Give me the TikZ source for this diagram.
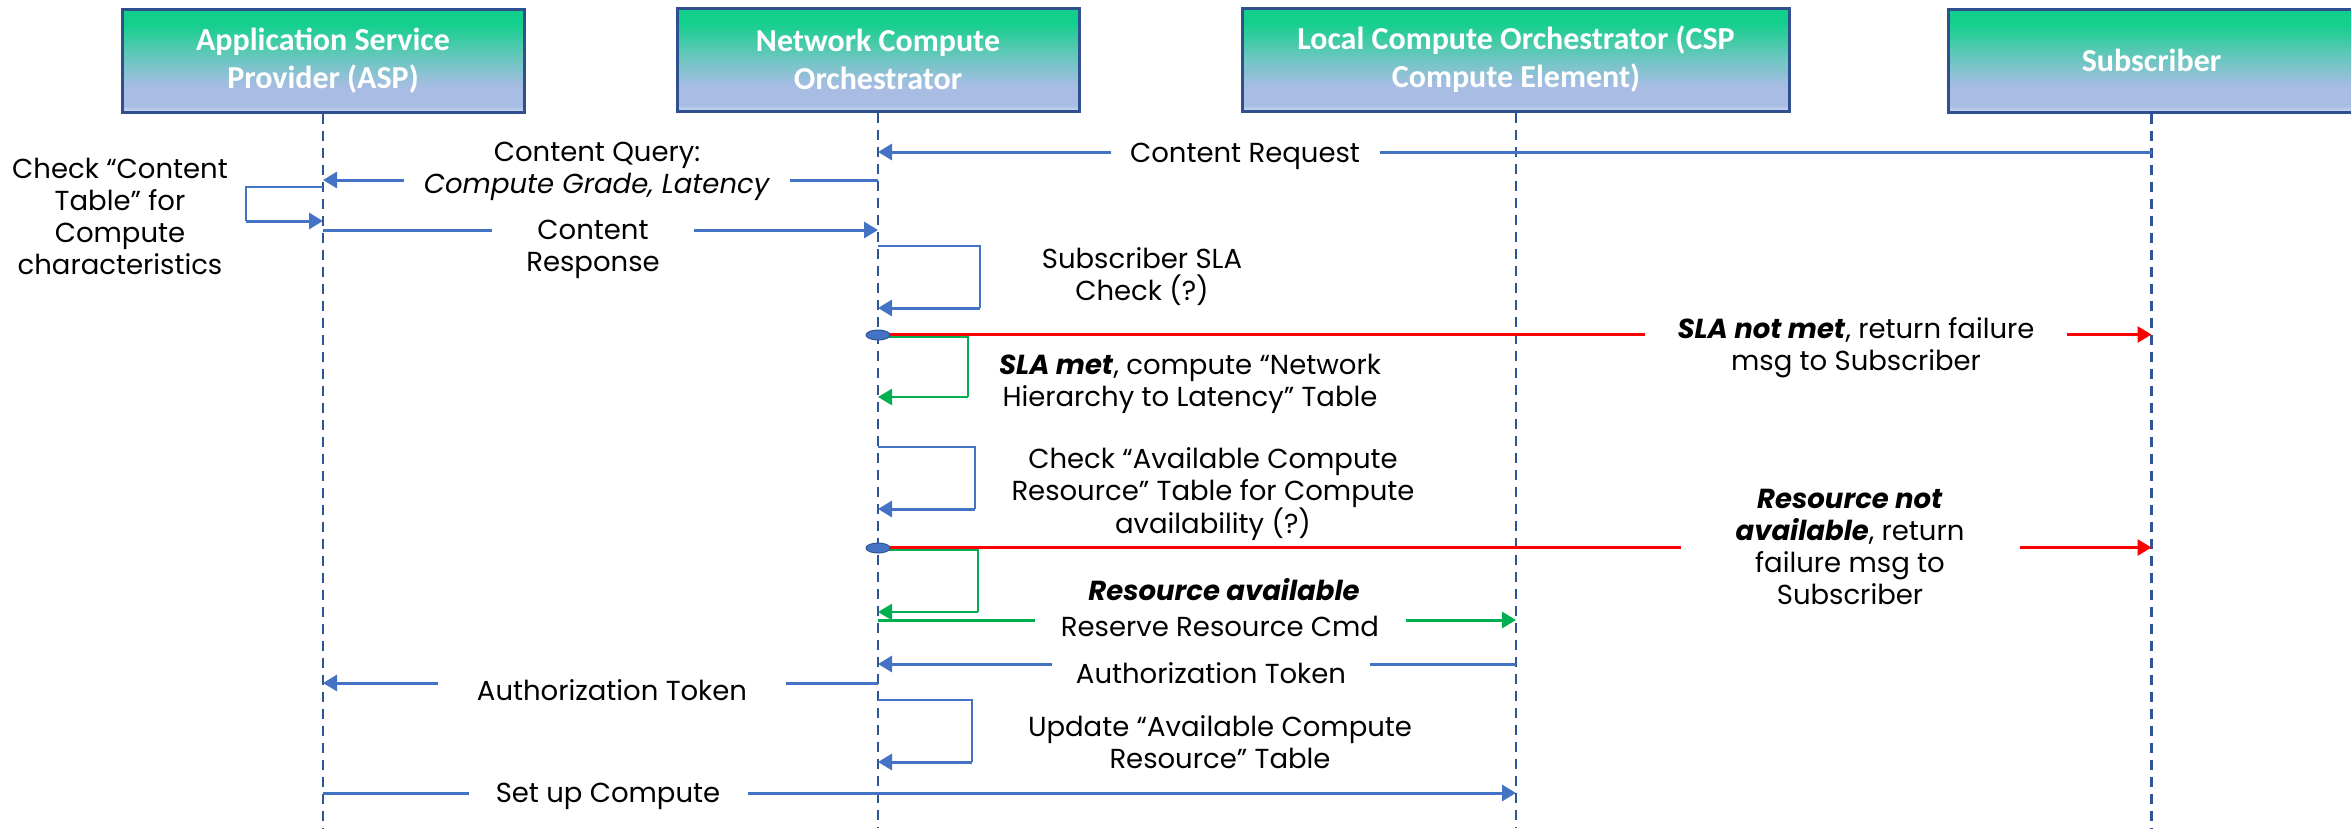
\documentclass[tikz,border=0pt]{standalone}
\usepackage{fontspec}
\setmainfont{Poppins}
\newfontfamily\hdrfont{Carlito}
\usetikzlibrary{arrows.meta,shapes.geometric}
\definecolor{msgblue}{HTML}{4472C4}
\definecolor{lifeblue}{HTML}{2F5597}
\definecolor{hdrborder}{HTML}{2F4F8F}
\definecolor{redline}{HTML}{FF0000}
\definecolor{greenline}{HTML}{00B050}
\definecolor{hdrgrn}{HTML}{12D08B}
\definecolor{hdrmid}{HTML}{6FC6C2}
\definecolor{hdrlav}{HTML}{A8BCE4}
\definecolor{hdrbot}{HTML}{CBD8F0}
\pgfdeclareverticalshading{hdrshade}{100bp}{color(0bp)=(hdrbot); color(25bp)=(hdrbot); color(28bp)=(hdrlav); color(37bp)=(hdrlav); color(50bp)=(hdrmid); color(68bp)=(hdrgrn); color(100bp)=(hdrgrn)}
\tikzset{
  hdr/.style={draw=hdrborder, line width=3pt, shading=hdrshade, minimum height=103pt,
    text=white, font=\hdrfont\bfseries\fontsize{32}{38}\selectfont, align=center, inner sep=0pt},
  life/.style={draw=lifeblue, line width=2.5pt, dash pattern=on 10pt off 7pt},
  tip/.style={-{Triangle[length=14pt,width=16pt]}},
  msg/.style={draw=msgblue, line width=3pt, tip},
  redmsg/.style={draw=redline, line width=3pt, tip},
  greenmsg/.style={draw=greenline, line width=3pt, tip},
  thinblue/.style={draw=msgblue, line width=1.5pt},
  thingreen/.style={draw=greenline, line width=2pt},
  lbl/.style={fill=white, font=\fontsize{27.5}{32}\selectfont, align=center, inner sep=0pt, minimum height=34pt, yshift=-3pt},
  txt/.style={font=\fontsize{27.5}{32}\selectfont, align=center, inner sep=0pt, yshift=-3pt},
  dotnode/.style={ellipse, fill=msgblue, draw=lifeblue, line width=1pt, minimum width=24pt, minimum height=10pt, inner sep=0pt},
}
\begin{document}
\begin{tikzpicture}[x=1pt,y=-1pt]
\useasboundingbox (0,0) rectangle (2351,828);
% headers
\node[hdr, minimum width=402pt] (asp) at (323,60.5) {Application Service\\Provider (ASP)};
\node[hdr, minimum width=402pt] (nco) at (878,59.5) {Network Compute\\Orchestrator};
\node[hdr, minimum width=547pt] (lco) at (1516,59.5) {Local Compute Orchestrator (CSP\\Compute Element)};
\node[hdr, minimum width=407pt] (sub) at (2151.5,60.5) {Subscriber};
% lifelines
\coordinate (bot) at (0,828);
\draw[life] (asp.south) -- (asp.south |- bot);
\draw[life] (nco.south) -- (nco.south |- bot);
\draw[life] (lco.south) -- (lco.south |- bot);
\draw[life] (sub.south) -- (sub.south |- bot);

% 1 Content Request
\draw[msg] (sub |- 0,152) -- (nco |- 0,152);
\node[lbl, minimum width=269pt] (m1) at (1245,153) {Content Request};
% 2 Content Query
\draw[msg] (nco |- 0,180) -- (asp |- 0,180);
\node[lbl, minimum width=386pt] (m2) at (597,168) {Content Query:\\\textit{Compute Grade, Latency}};
% 3 ASP loop
\coordinate (c3) at (246,221);
\draw[thinblue] (asp |- 0,187) -| (c3);
\draw[msg] (c3) -- (asp |- c3);
\node[txt] (t3) at (120,213) {Check “Content\\Table” for\\Compute\\characteristics};
% 4 Content Response
\draw[msg] (asp |- 0,230) -- (nco |- 0,230);
\node[lbl, minimum width=202pt] (m4) at (593,246) {Content\\Response};
% 5 SLA check loop
\coordinate (c5) at (980,308);
\draw[thinblue] (nco |- 0,246) -| (c5);
\draw[msg] (c5) -- (nco |- c5);
\node[txt] (t5) at (1142,274) {Subscriber SLA\\Check (?)};
% 6 SLA decision
\coordinate (d1pos) at (878,335);
\coordinate (c6) at (968,397);
\draw[thingreen] (nco |- 0,336.5) -| (c6);
\draw[greenmsg, line width=2.5pt] (c6) -- (nco |- c6);
\draw[redmsg] (nco |- 0,334.5) -- (sub |- 0,334.5);
\node[dotnode] (d1) at (nco |- d1pos) {};
\node[lbl, minimum width=422pt] (m6) at (1856,345) {\textbf{\textit{SLA not met}}, return failure\\msg to Subscriber};
\node[txt] (t6) at (1190,381) {\textbf{\textit{SLA met}}, compute “Network\\Hierarchy to Latency” Table};
% 7 Available compute loop
\coordinate (c7) at (975,509);
\draw[thinblue] (nco |- 0,447) -| (c7);
\draw[msg] (c7) -- (nco |- c7);
\node[txt] (t7) at (1213,491) {Check “Available Compute\\Resource” Table for Compute\\availability (?)};
% 8 Resource decision
\coordinate (d2pos) at (878,548);
\coordinate (c8) at (978,612);
\draw[thingreen] (nco |- 0,549.5) -| (c8);
\draw[greenmsg, line width=2.5pt] (c8) -- (nco |- c8);
\draw[redmsg] (nco |- 0,547.5) -- (sub |- 0,547.5);
\node[dotnode] (d2) at (nco |- d2pos) {};
\node[lbl, minimum width=339pt] (m8) at (1850,544) {\textbf{\textit{Resource not}}\\\textbf{\textit{available}}, return\\failure msg to\\Subscriber};
\node[txt] (t8) at (1224,587) {\textbf{\textit{Resource available}}};
% 9 Reserve Resource Cmd
\draw[greenmsg] (nco |- 0,620) -- (lco |- 0,620);
\node[lbl, minimum width=371pt, minimum height=30pt] (m9) at (1220,623) {Reserve Resource Cmd};
% 10 Authorization Token (LCO -> NCO)
\draw[msg] (lco |- 0,664) -- (nco |- 0,664);
\node[lbl, minimum width=318pt, minimum height=30pt] (m10) at (1211,670) {Authorization Token};
% 11 Authorization Token (NCO -> ASP)
\draw[msg] (nco |- 0,683) -- (asp |- 0,683);
\node[lbl, minimum width=348pt] (m11) at (612,687) {Authorization Token};
% 12 Update loop
\coordinate (c12) at (972,762);
\draw[thinblue] (nco |- 0,700) -| (c12);
\draw[msg] (c12) -- (nco |- c12);
\node[txt] (t12) at (1220,739) {Update “Available Compute\\Resource” Table};
% 13 Set up Compute
\draw[msg] (asp |- 0,793) -- (lco |- 0,793);
\node[lbl, minimum width=279pt] (m13) at (608,793) {Set up Compute};
\end{tikzpicture}
\end{document}
